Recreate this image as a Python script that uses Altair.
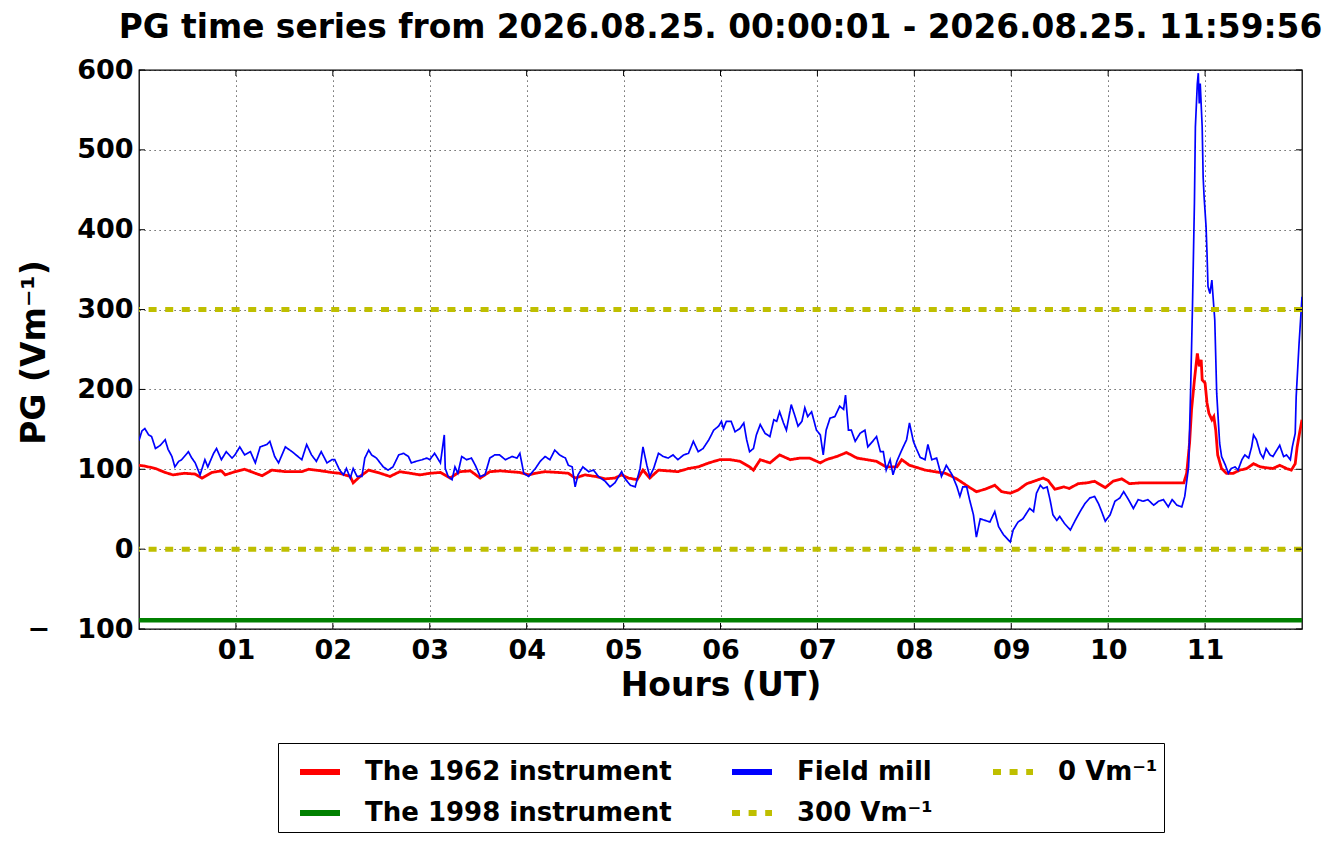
import altair as alt
import pandas as pd

# ---------------- data ----------------
blue_hours = [0.00, 0.03, 0.06, 0.10, 0.13, 0.17, 0.22, 0.27, 0.30, 0.34, 0.37, 0.41, 0.44, 0.51, 0.54, 0.58,
              0.63, 0.68, 0.71, 0.77, 0.80, 0.85, 0.90, 0.96, 0.99, 1.04, 1.09, 1.15, 1.20, 1.25, 1.32, 1.35,
              1.40, 1.44, 1.51, 1.58, 1.64, 1.68, 1.73, 1.78, 1.83, 1.88, 1.94, 1.99, 2.02, 2.07, 2.11, 2.14,
              2.18, 2.21, 2.25, 2.30, 2.33, 2.37, 2.40, 2.45, 2.52, 2.57, 2.62, 2.68, 2.73, 2.78, 2.81, 2.86,
              2.92, 2.97, 3.00, 3.05, 3.11, 3.15, 3.16, 3.19, 3.23, 3.26, 3.29, 3.33, 3.38, 3.43, 3.47, 3.52,
              3.57, 3.62, 3.67, 3.72, 3.78, 3.85, 3.90, 3.93, 3.97, 4.02, 4.09, 4.14, 4.19, 4.24, 4.29, 4.34,
              4.40, 4.43, 4.47, 4.50, 4.53, 4.58, 4.64, 4.69, 4.74, 4.81, 4.86, 4.91, 4.98, 5.01, 5.07, 5.12,
              5.17, 5.20, 5.24, 5.27, 5.31, 5.36, 5.41, 5.46, 5.51, 5.56, 5.62, 5.67, 5.72, 5.77, 5.82, 5.88,
              5.93, 5.98, 6.01, 6.03, 6.06, 6.11, 6.15, 6.20, 6.24, 6.27, 6.30, 6.34, 6.37, 6.41, 6.46, 6.51,
              6.55, 6.58, 6.61, 6.65, 6.68, 6.73, 6.77, 6.80, 6.84, 6.87, 6.90, 6.94, 6.99, 7.03, 7.06, 7.09,
              7.13, 7.18, 7.23, 7.27, 7.29, 7.32, 7.35, 7.39, 7.44, 7.49, 7.52, 7.57, 7.61, 7.65, 7.68, 7.71,
              7.75, 7.78, 7.82, 7.87, 7.92, 7.95, 7.99, 8.02, 8.06, 8.11, 8.14, 8.18, 8.23, 8.28, 8.33, 8.39,
              8.44, 8.47, 8.50, 8.54, 8.57, 8.61, 8.64, 8.68, 8.73, 8.78, 8.83, 8.87, 8.92, 8.99, 9.02, 9.07,
              9.12, 9.19, 9.23, 9.26, 9.30, 9.33, 9.37, 9.40, 9.43, 9.47, 9.50, 9.55, 9.61, 9.66, 9.71, 9.76,
              9.81, 9.86, 9.90, 9.93, 9.97, 10.02, 10.07, 10.12, 10.16, 10.21, 10.26, 10.31, 10.36, 10.41,
              10.47, 10.52, 10.57, 10.62, 10.66, 10.71, 10.76, 10.79, 10.83, 10.85, 10.87, 10.89, 10.90,
              10.92, 10.93, 10.94, 10.95, 10.97, 10.98, 10.99, 11.01, 11.02, 11.03, 11.05, 11.07, 11.08,
              11.10, 11.12, 11.15, 11.17, 11.21, 11.24, 11.27, 11.31, 11.34, 11.38, 11.41, 11.45, 11.48,
              11.50, 11.53, 11.57, 11.60, 11.63, 11.67, 11.70, 11.74, 11.77, 11.81, 11.84, 11.88, 11.90,
              11.93, 11.94, 11.97, 11.99, 12.00]
blue_values = [136, 148, 151, 143, 141, 126, 130, 137, 125, 116, 103, 110, 112, 122, 115, 108,
               93, 112, 103, 120, 126, 112, 122, 114, 118, 128, 118, 122, 108, 128, 131, 135,
               116, 108, 128, 122, 116, 112, 131, 118, 110, 122, 108, 112, 112, 99, 93, 101,
               89, 101, 91, 91, 114, 124, 118, 114, 103, 99, 103, 118, 120, 116, 108, 110,
               112, 114, 112, 120, 108, 143, 101, 91, 87, 103, 95, 116, 112, 114, 105, 91,
               93, 114, 118, 118, 112, 116, 114, 120, 95, 91, 101, 110, 116, 112, 124, 118,
               114, 105, 103, 78, 93, 103, 97, 99, 91, 85, 78, 83, 97, 89, 80, 78,
               101, 128, 105, 91, 101, 120, 116, 114, 118, 112, 118, 120, 135, 122, 126, 137,
               149, 154, 160, 151, 160, 160, 147, 151, 158, 137, 122, 126, 143, 156, 145, 141,
               162, 160, 172, 158, 149, 181, 166, 154, 160, 177, 166, 172, 149, 143, 118, 149,
               164, 166, 179, 175, 193, 149, 149, 135, 145, 149, 128, 135, 141, 122, 122, 99,
               112, 93, 110, 124, 137, 158, 135, 126, 115, 112, 131, 112, 114, 91, 105, 93,
               78, 66, 78, 78, 62, 43, 15, 38, 36, 34, 47, 28, 18, 9, 24, 34,
               38, 51, 47, 70, 80, 76, 78, 62, 43, 36, 41, 32, 24, 36, 47, 57,
               64, 66, 57, 48, 35, 43, 60, 64, 72, 62, 51, 62, 60, 62,
               55, 60, 62, 53, 62, 55, 53, 66, 103, 195, 304, 433, 529,
               583, 596, 558, 583, 529, 466, 441, 404, 370, 329, 320, 337, 320,
               287, 195, 133, 116, 105, 95, 101, 103, 99, 112, 118, 114, 128,
               143, 137, 120, 114, 126, 118, 116, 124, 130, 116, 118, 112, 128,
               145, 191, 258, 296, 316]

red_hours = [0.00, 0.06, 0.17, 0.27, 0.35, 0.47, 0.58, 0.65, 0.75, 0.85, 0.89, 0.99, 1.09, 1.20, 1.27, 1.37,
             1.51, 1.68, 1.75, 1.88, 1.99, 2.07, 2.18, 2.21, 2.28, 2.37, 2.49, 2.59, 2.69, 2.80, 2.90, 3.00,
             3.11, 3.21, 3.31, 3.42, 3.52, 3.62, 3.73, 3.83, 3.93, 4.02, 4.09, 4.19, 4.33, 4.43, 4.50, 4.60,
             4.71, 4.81, 4.91, 4.98, 5.05, 5.14, 5.20, 5.27, 5.36, 5.46, 5.56, 5.67, 5.77, 5.88, 5.99, 6.10,
             6.20, 6.30, 6.34, 6.41, 6.51, 6.61, 6.72, 6.82, 6.92, 7.03, 7.09, 7.20, 7.30, 7.41, 7.51, 7.61,
             7.71, 7.82, 7.87, 7.95, 8.06, 8.11, 8.21, 8.32, 8.39, 8.45, 8.56, 8.64, 8.73, 8.83, 8.90, 8.99,
             9.07, 9.16, 9.21, 9.28, 9.33, 9.38, 9.45, 9.54, 9.60, 9.69, 9.78, 9.86, 9.97, 10.05, 10.14,
             10.22, 10.33, 10.47, 10.60, 10.78, 10.81, 10.84, 10.86, 10.89, 10.92, 10.94, 10.96, 10.97,
             11.00, 11.02, 11.04, 11.07, 11.09, 11.11, 11.13, 11.17, 11.22, 11.29, 11.36, 11.43, 11.50,
             11.57, 11.63, 11.70, 11.77, 11.84, 11.89, 11.93, 11.95, 11.98, 12.00]
red_values = [105, 104, 101, 96, 93, 95, 94, 89, 96, 98, 93, 97, 100, 95, 92, 99,
              97, 97, 100, 98, 96, 95, 91, 83, 91, 99, 95, 91, 97, 95, 93, 95,
              96, 89, 97, 98, 89, 97, 98, 97, 96, 93, 95, 97, 96, 95, 89, 93,
              91, 88, 89, 93, 89, 87, 99, 89, 99, 98, 97, 101, 103, 108, 112, 112,
              110, 103, 99, 112, 108, 118, 112, 114, 114, 108, 112, 116, 121, 114, 112, 110,
              103, 103, 112, 105, 101, 99, 97, 95, 91, 87, 78, 72, 75, 80, 72, 70,
              74, 82, 84, 87, 89, 86, 75, 78, 76, 82, 83, 85, 77, 85, 88,
              82, 83, 83, 83, 83, 95, 133, 174, 212, 245, 229, 237, 212,
              208, 183, 170, 162, 166, 149, 118, 101, 95, 95, 99, 101, 107,
              103, 102, 101, 105, 101, 99, 107, 128, 149, 162]

green_level = [-89]
threshold_levels = [300, 0]

S1962 = "The 1962 instrument"
S1998 = "The 1998 instrument"
SFM = "Field mill"
S300 = "300 Vm\u207b\u00b9"
S0 = "0 Vm\u207b\u00b9"

# the legend grid is filled column by column
legend_order = [S1962, S1998, SFM, S300, S0]
legend_colors = ["#ff0000", "#008000", "#0000ff", "#bfbf00", "#bfbf00"]
legend_dashes = [[1, 0], [1, 0], [1, 0], [8, 8.6], [8, 8.6]]

x_ticks = [1, 2, 3, 4, 5, 6, 7, 8, 9, 10, 11]
y_ticks = [-100, 0, 100, 200, 300, 400, 500, 600]

TITLE = "PG time series from 2026.08.25. 00:00:01 - 2026.08.25. 11:59:56"

# ---------------- tables ----------------
red_df = pd.DataFrame({"hour": red_hours, "value": red_values, "series": S1962})
blue_df = pd.DataFrame({"hour": blue_hours, "value": blue_values, "series": SFM})
green_df = pd.DataFrame({"value": green_level, "series": S1998})
thr_df = pd.DataFrame({"value": threshold_levels, "series": [S300, S0]})
xtick_df = pd.DataFrame({"hour": x_ticks})
ytick_df = pd.DataFrame({"value": y_ticks})

FONT = "DejaVu Sans"
W, H = 1163, 559
TICK = 6

x_enc = alt.X("hour:Q",
              scale=alt.Scale(domain=[0, 12], nice=False, zero=False),
              axis=alt.Axis(values=x_ticks,
                            labelExpr="datum.value < 10 ? '0' + datum.value : '' + datum.value",
                            title="Hours (UT)", grid=True, ticks=False, domain=False,
                            labelPadding=8, titlePadding=6))
y_enc = alt.Y("value:Q",
              scale=alt.Scale(domain=[-100, 600], nice=False, zero=False),
              axis=alt.Axis(values=y_ticks,
                            labelExpr="datum.value < 0 ? '\u2212\u2003' + (-datum.value) : '' + datum.value",
                            title="PG (Vm\u207b\u00b9)",
                            grid=True, ticks=False, domain=False, labelPadding=6,
                            titleX=-95, titleY=282, titleAngle=270, titleAlign="center",
                            titleBaseline="alphabetic"))
color_enc = alt.Color("series:N",
                      scale=alt.Scale(domain=legend_order, range=legend_colors),
                      legend=alt.Legend(title=None))
dash_enc = alt.StrokeDash("series:N",
                          scale=alt.Scale(domain=legend_order, range=legend_dashes),
                          legend=alt.Legend(title=None))

red = alt.Chart(red_df).mark_line(strokeWidth=2.8, clip=True).encode(
    x=x_enc, y=y_enc, color=color_enc, strokeDash=dash_enc)
green = alt.Chart(green_df).mark_rule(strokeWidth=4.5).encode(
    y="value:Q", color=color_enc, strokeDash=dash_enc)
blue = alt.Chart(blue_df).mark_line(strokeWidth=1.7, clip=True).encode(
    x="hour:Q", y="value:Q", color=color_enc, strokeDash=dash_enc)
thr = alt.Chart(thr_df).mark_rule(strokeWidth=5).encode(
    y="value:Q", color=color_enc, strokeDash=dash_enc)

# inward tick marks on all four sides of the frame
tick_bottom = alt.Chart(xtick_df).mark_rule(color="black", strokeWidth=1).encode(
    x="hour:Q", y=alt.value(H), y2=alt.value(H - TICK))
tick_top = alt.Chart(xtick_df).mark_rule(color="black", strokeWidth=1).encode(
    x="hour:Q", y=alt.value(0), y2=alt.value(TICK))
tick_left = alt.Chart(ytick_df).mark_rule(color="black", strokeWidth=1).encode(
    y="value:Q", x=alt.value(0), x2=alt.value(TICK))
tick_right = alt.Chart(ytick_df).mark_rule(color="black", strokeWidth=1).encode(
    y="value:Q", x=alt.value(W - TICK), x2=alt.value(W))

chart = alt.layer(red, green, blue, thr, tick_bottom, tick_top, tick_left, tick_right).properties(
    width=W, height=H,
    padding={"left": 131, "top": 62, "right": 32, "bottom": 204},
    autosize=alt.AutoSizeParams(type="none"),
    title=alt.TitleParams(text=TITLE, font=FONT, fontSize=32.8, fontWeight="bold",
                          color="black", anchor="middle", frame="group", offset=11),
).configure_view(
    stroke="black", strokeWidth=1.3
).configure_axis(
    labelFont=FONT, labelFontSize=27, labelFontWeight="bold", labelColor="black",
    titleFont=FONT, titleFontSize=33, titleFontWeight="bold", titleColor="black",
    gridColor="black", gridDash=[1.2, 3.8], gridWidth=1, gridOpacity=0.75,
).configure_legend(
    orient="none", legendX=139, legendY=673, columns=3,
    symbolType="stroke", symbolSize=1600, symbolStrokeWidth=6, symbolOffset=13,
    labelFont=FONT, labelFontSize=26, labelFontWeight="bold", labelColor="black",
    labelLimit=500, labelOffset=22, rowPadding=5, columnPadding=44,
    padding=6, strokeColor="black", fillColor="white", cornerRadius=0,
)

chart.save("out.html", embed_options={"renderer": "svg", "actions": False})
